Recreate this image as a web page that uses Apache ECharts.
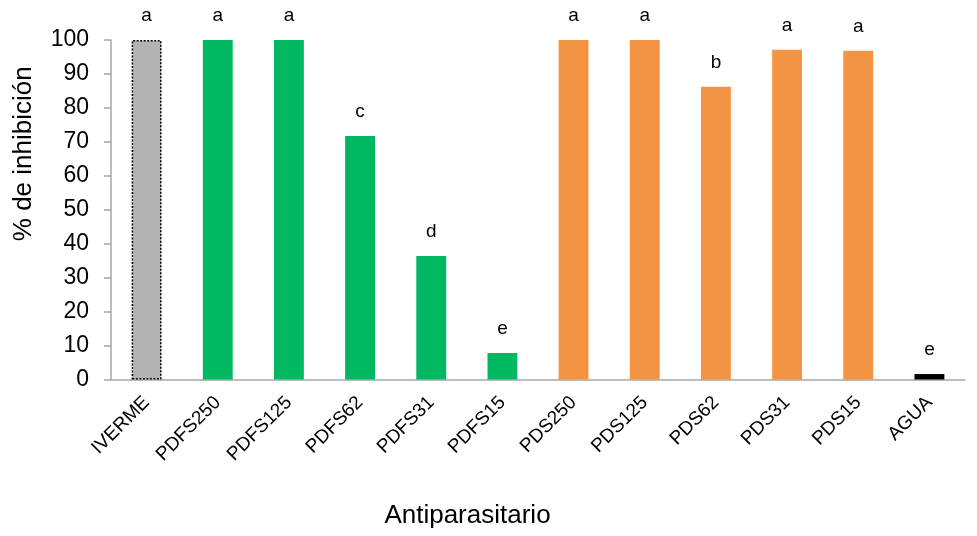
<!DOCTYPE html>
<html><head><meta charset="utf-8">
<script src="https://cdn.jsdelivr.net/npm/echarts@6/dist/echarts.min.js"></script>
<style>html,body{margin:0;padding:0;background:#fff}#c{width:977px;height:536px}</style>
</head><body><div id="c"></div>
<script>
const categories = ["IVERME","PDFS250","PDFS125","PDFS62","PDFS31","PDFS15","PDS250","PDS125","PDS62","PDS31","PDS15","AGUA"];
const values = [100, 100, 100, 71.7, 36.4, 7.8, 100, 100, 86.2, 97.1, 96.8, 1.6];
const letters = ["a","a","a","c","d","e","a","a","b","a","a","e"];
const yTicks = [0,10,20,30,40,50,60,70,80,90,100];

const colors = ["#b3b3b3","#00b862","#00b862","#00b862","#00b862","#00b862","#f29441","#f29441","#f29441","#f29441","#f29441","#000000"];
const data = values.map((v,i)=>{
  const d = {value:v, itemStyle:{color:colors[i]}};
  if(i===0){ d.itemStyle.borderColor='#000'; d.itemStyle.borderWidth=1.5; d.itemStyle.borderType=[2,1.5]; }
  return d;
});
const chart = echarts.init(document.getElementById('c'));
const font = 'Liberation Sans, Arial, sans-serif';
chart.setOption({
  animation:false,
  grid:{left:111,right:12,top:40,bottom:156.5,containLabel:false,outerBoundsMode:'none'},
  xAxis:{type:'category',data:categories,
    name:'Antiparasitario',nameLocation:'middle',nameGap:123,
    nameTextStyle:{fontSize:26,color:'#000',fontFamily:font,padding:[0,141,0,0]},
    axisLine:{lineStyle:{color:'#a6a6a6',width:1.5}},
    axisTick:{show:false},
    axisLabel:{rotate:45,fontSize:19,color:'#000',fontFamily:font,margin:20,interval:0}},
  yAxis:{type:'value',min:0,max:100,interval:10,
    name:'% de inhibición',nameLocation:'middle',nameGap:74,
    nameTextStyle:{fontSize:26,color:'#000',fontFamily:font,padding:[0,0,0,112]},
    axisLine:{show:true,lineStyle:{color:'#a6a6a6',width:1.5}},
    axisTick:{show:true,length:7,lineStyle:{color:'#a6a6a6',width:1.5}},
    splitLine:{show:false},
    axisLabel:{fontSize:23,color:'#000',fontFamily:font,margin:22,
      formatter:v=>yTicks.includes(v)?String(v):''}},
  series:[{type:'bar',data:data,barWidth:'42%',
    label:{show:true,position:'top',distance:15,fontSize:19,color:'#000',fontFamily:font,
      formatter:p=>letters[p.dataIndex]}}]
});
</script></body></html>
